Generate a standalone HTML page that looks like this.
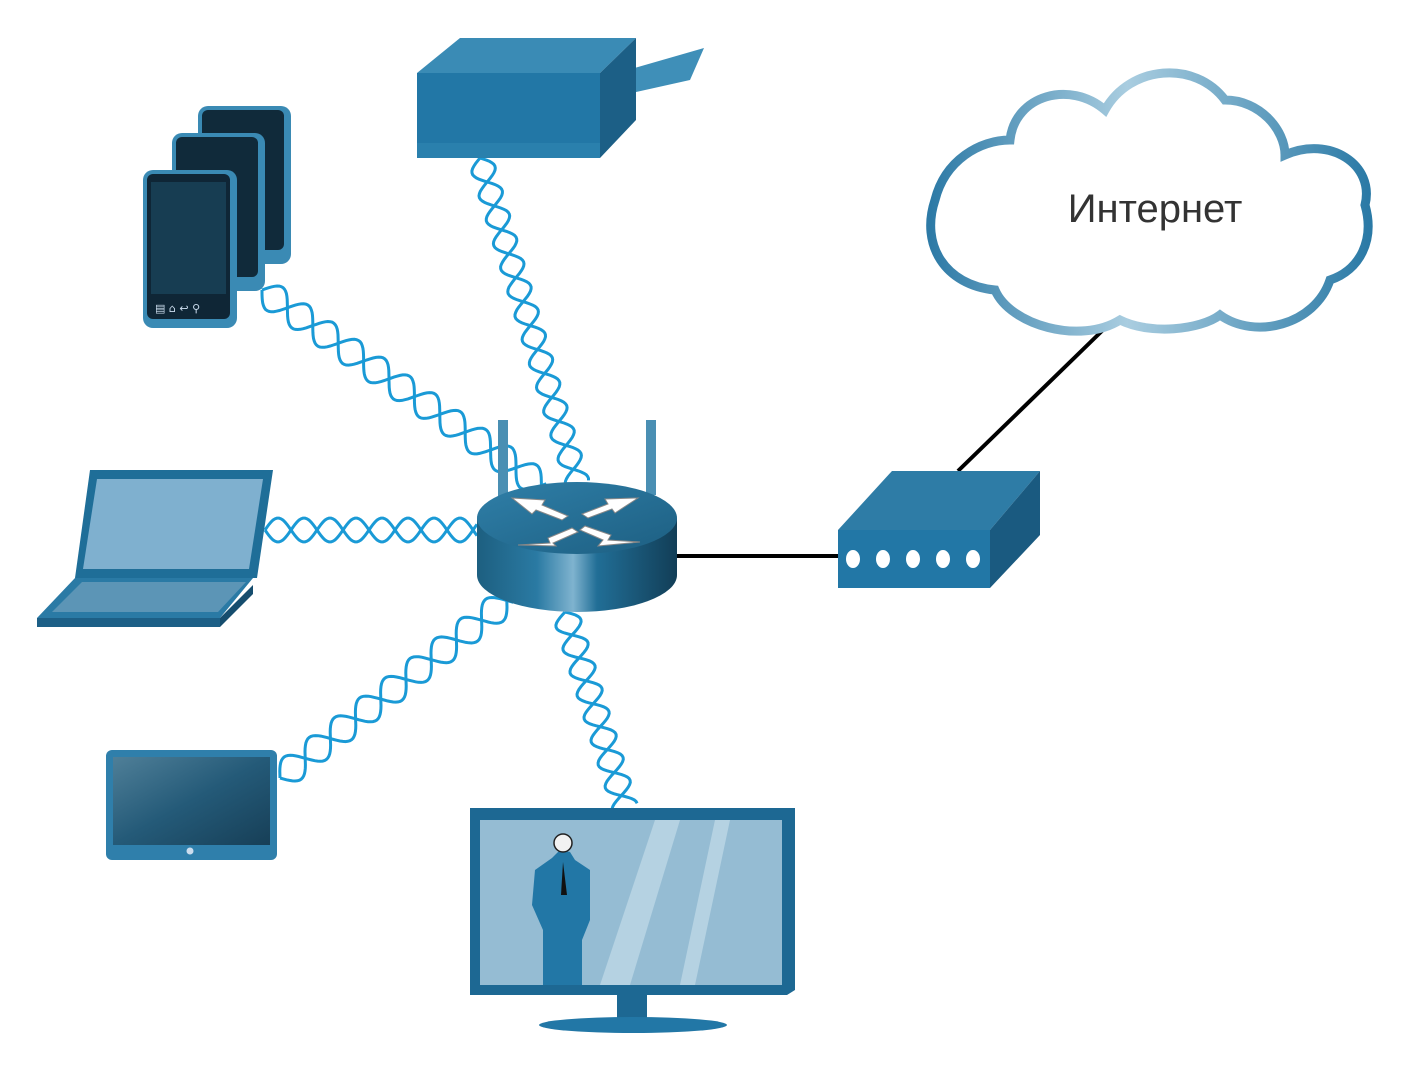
<!DOCTYPE html>
<html><head><meta charset="utf-8"><style>
html,body{margin:0;padding:0;background:#fff}
svg{display:block}
</style></head><body>
<svg id="s" width="1404" height="1080" viewBox="0 0 1404 1080" xmlns="http://www.w3.org/2000/svg">
<defs>
<linearGradient id="cyl" x1="0" x2="1" y1="0" y2="0">
<stop offset="0" stop-color="#1d5f80"/><stop offset="0.3" stop-color="#2a7aa3"/><stop offset="0.48" stop-color="#7fb3cf"/><stop offset="0.6" stop-color="#216e96"/><stop offset="1" stop-color="#123e57"/>
</linearGradient>
<linearGradient id="top" x1="0" x2="1" y1="0" y2="1">
<stop offset="0" stop-color="#2f7fa8"/><stop offset="1" stop-color="#1d5f82"/>
</linearGradient>
<linearGradient id="cloud" x1="0" x2="1" y1="0" y2="0">
<stop offset="0" stop-color="#2d7aa6"/><stop offset="0.45" stop-color="#a9cde0"/><stop offset="1" stop-color="#2b7aa6"/>
</linearGradient>
<linearGradient id="scr" x1="0" x2="1" y1="0" y2="1">
<stop offset="0" stop-color="#4f7f98"/><stop offset="0.5" stop-color="#245a78"/><stop offset="1" stop-color="#173f57"/>
</linearGradient>
</defs>
<g id="waves" fill="none" stroke="#1a9ad6" stroke-width="3"></g>

<line x1="670" y1="556" x2="840" y2="556" stroke="#000" stroke-width="4"/>
<line x1="958" y1="471" x2="1105" y2="328" stroke="#000" stroke-width="4"/>

<!-- printer -->
<polygon points="600,78 704,48 690,80 600,100" fill="#3f8fb8"/>
<polygon points="417,73 460,38 636,38 600,73" fill="#3a8bb5"/>
<rect x="417" y="73" width="183" height="70" fill="#2277a6"/>
<rect x="417" y="143" width="183" height="15" fill="#2a80ad"/>
<polygon points="600,73 636,38 636,120 600,158" fill="#1c5f86"/>

<!-- phones -->
<g>
<rect x="198" y="106" width="93" height="158" rx="10" fill="#3a8ab4"/>
<rect x="202" y="110" width="82" height="140" rx="6" fill="#102a3a"/>
<rect x="172" y="133" width="93" height="158" rx="10" fill="#3a8ab4"/>
<rect x="176" y="137" width="82" height="140" rx="6" fill="#102a3a"/>
<rect x="143" y="170" width="94" height="158" rx="10" fill="#3a8ab4"/>
<rect x="147" y="174" width="83" height="145" rx="6" fill="#0f2636"/>
<rect x="151" y="182" width="75" height="112" fill="#173d52"/>
<text x="155" y="312" font-family="DejaVu Sans" font-size="11" fill="#cde">▤ ⌂ ↩ ⚲</text>
</g>

<!-- laptop -->
<polygon points="90,470 273,470 257,578 75,578" fill="#1f6e98"/>
<polygon points="97,479 263,479 249,569 83,569" fill="#7fb0cf"/>
<polygon points="75,578 253,578 220,618 37,618" fill="#2a7aa5"/>
<polygon points="82,582 246,582 218,612 52,612" fill="#5c95b6"/>
<rect x="37" y="618" width="183" height="9" fill="#1d5f86"/>
<polygon points="220,618 253,585 253,594 220,627" fill="#164d6e"/>

<!-- tablet -->
<rect x="106" y="750" width="171" height="110" rx="6" fill="#2f7fab"/>
<rect x="113" y="757" width="157" height="88" fill="url(#scr)"/>
<circle cx="190" cy="851" r="3.5" fill="#cde"/>

<!-- TV -->
<polygon points="470,808 795,808 795,990 787,995 470,995" fill="#1d6893"/>
<rect x="480" y="820" width="302" height="165" fill="#95bcd3"/>
<polygon points="600,985 655,820 680,820 630,985" fill="#b5d2e2"/>
<polygon points="680,985 715,820 730,820 695,985" fill="#b5d2e2"/>
<path d="M552 858 L560 850 L570 852 L575 860 L590 870 L590 920 L582 940 L582 985 L543 985 L543 930 L532 905 L535 870 Z" fill="#2277a6"/>
<circle cx="563" cy="843" r="9" fill="#f2f2f2" stroke="#222" stroke-width="1.5"/>
<path d="M563 862 L567 895 L561 895 Z" fill="#111"/>
<rect x="617" y="995" width="30" height="25" fill="#1d6893"/>
<ellipse cx="633" cy="1025" rx="94" ry="8" fill="#2277a6"/>

<!-- router -->
<rect x="498" y="420" width="10" height="80" fill="#4a8fb3"/>
<rect x="646" y="420" width="10" height="75" fill="#4a8fb3"/>
<path d="M477 518 L477 575 A100 37 0 0 0 677 575 L677 518 Z" fill="url(#cyl)"/>
<ellipse cx="577" cy="518" rx="100" ry="36" fill="url(#top)"/>
<g fill="#fff" stroke="#888" stroke-width="1">
<polygon points="512,498 545,500 542,505 568,516 562,520 536,510 532,514"/>
<polygon points="638,498 605,499 608,504 582,514 588,518 612,509 615,513"/>
<polygon points="518,545 550,543 548,538 572,528 578,532 553,543 556,546"/>
<polygon points="640,542 608,540 611,535 585,526 580,530 603,540 598,546"/>
</g>

<!-- modem -->
<polygon points="838,530 892,471 1040,471 990,530" fill="#2e7ca6"/>
<rect x="838" y="530" width="152" height="58" fill="#2277a6"/>
<polygon points="990,530 1040,471 1040,535 990,588" fill="#1a5a80"/>
<g fill="#fff"><ellipse cx="853" cy="559" rx="7" ry="9"/><ellipse cx="883" cy="559" rx="7" ry="9"/><ellipse cx="913" cy="559" rx="7" ry="9"/><ellipse cx="943" cy="559" rx="7" ry="9"/><ellipse cx="973" cy="559" rx="7" ry="9"/></g>

<!-- cloud -->
<path d="M1010 140 C1015 95 1070 80 1105 110 C1130 65 1195 60 1225 100 C1260 100 1285 130 1285 155 C1330 135 1375 165 1365 205 C1375 240 1360 270 1330 280 C1315 325 1255 340 1220 315 C1200 330 1150 335 1120 320 C1080 345 1010 325 995 290 C945 285 920 245 935 200 C945 160 980 140 1010 140 Z" fill="#fff" stroke="url(#cloud)" stroke-width="9"/>
<text x="1155" y="222" text-anchor="middle" font-family="Liberation Sans, sans-serif" font-size="40" fill="#333">Интернет</text>
</svg>
<script>
var g=document.getElementById('waves');
function helix(x1,y1,x2,y2,wl,amp){
 var dx=x2-x1,dy=y2-y1,L=Math.hypot(dx,dy),ux=dx/L,uy=dy/L,nx=-uy,ny=ux;
 [0,Math.PI].forEach(function(ph){
  var d='';
  for(var t=0;t<=L;t+=2){
   var o=amp*Math.sin(2*Math.PI*t/wl+ph);
   var x=x1+ux*t+nx*o,y=y1+uy*t+ny*o;
   d+=(t?'L':'M')+x.toFixed(1)+' '+y.toFixed(1);
  }
  var p=document.createElementNS('http://www.w3.org/2000/svg','path');
  p.setAttribute('d',d);g.appendChild(p);
 });
}
helix(262,290,545,488,62,14);
helix(480,158,578,485,50,12);
helix(265,530,478,530,52,12);
helix(280,778,510,598,64,14);
helix(565,612,625,808,48,13);
</script>
</body></html>
